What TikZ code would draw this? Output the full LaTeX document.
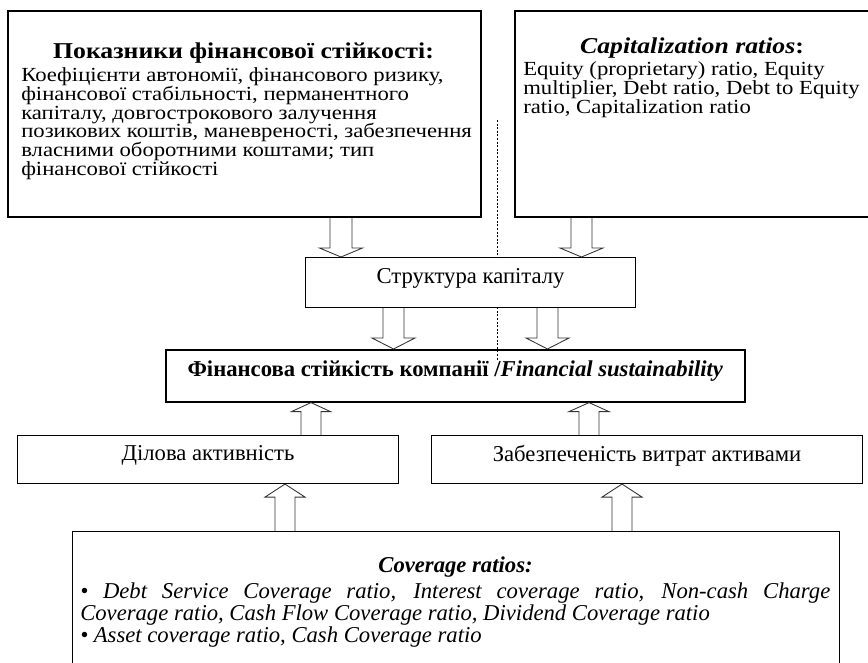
\documentclass[tikz,border=0pt]{standalone}
\usepackage{fontspec}
\setmainfont{Liberation Serif}
\newfontfamily\topfont{Liberation Serif}[FakeStretch=1.135]
\usetikzlibrary{calc}
\tikzset{
  box/.style={draw, line width=1.4pt, inner sep=0pt, anchor=north west},
  thinbox/.style={box, line width=0.8pt},
  blk/.style={draw=black!80, line width=0.65pt, line join=miter},
  txt/.style={inner sep=0pt},
}
% #1 centre x (px), #2 start anchor, #3 tip anchor, #4 signed head length,
% #5 shaft half width (px), #6 head half width (px)
\newcommand\blkarrow[6]{%
 \draw[blk] let \p1=(#2), \p2=(#3) in
  ({(#1-#5)*0.75pt},\y1) -- ({(#1-#5)*0.75pt},{\y2+#4}) -- ({(#1-#6)*0.75pt},{\y2+#4})
  -- ({#1*0.75pt},\y2) -- ({(#1+#6)*0.75pt},{\y2+#4}) -- ({(#1+#5)*0.75pt},{\y2+#4})
  -- ({(#1+#5)*0.75pt},\y1);}
% #1 style, #2 x1, #3 y1, #4 x2, #5 y2, #6 name
\newcommand\pbox[6]{\node[#1, minimum width={(#4-#2)*0.75pt}, minimum height={(#5-#3)*0.75pt}] (#6) at (#2,#3) {};}
\begin{document}
\begin{tikzpicture}[x=0.75pt,y=-0.75pt]
\useasboundingbox (0,0) rectangle (868,662);
\clip (0,0) rectangle (868,662);
\fill[white] (0,0) rectangle (868,662);
% dotted divider
\coordinate (d1) at (497,120);
\coordinate (d2) at (497,360);
\draw[line width=0.6pt, dash pattern=on 1.5pt off 1.2pt] (d1) -- (d2);
% boxes
\pbox{box}{7}{10}{480}{216}{tl}
\pbox{box}{514}{10}{873}{216}{tr}
\pbox{thinbox, fill=white}{305}{257}{635}{307}{str}
\pbox{box, line width=1.2pt}{165}{349}{744}{401}{fin}
\pbox{thinbox}{17}{435}{398}{483}{dil}
\pbox{thinbox}{431}{435}{862}{483}{zab}
\pbox{box, line width=1pt}{72}{531}{839}{680}{cov}
% texts
\node[txt, font=\topfont\fontsize{17}{19}\selectfont\bfseries] (tlt) at (243.5,53) {Показники фінансової стійкості:};
\node[txt, anchor=north west, align=left, font=\topfont\fontsize{15}{14.2}\selectfont] (tlb) at (21,67)
 {Коефіцієнти автономії, фінансового ризику,\\
  фінансової стабільності, перманентного\\
  капіталу, довгострокового залучення\\
  позикових коштів, маневреності, забезпечення\\
  власними оборотними коштами; тип\\
  фінансової стійкості};
\node[txt, font=\topfont\fontsize{17}{19}\selectfont\bfseries] (trt) at (692,48) {\textit{Capitalization ratios}:};
\node[txt, anchor=north west, align=left, font=\topfont\fontsize{15}{14.2}\selectfont] (trb) at (523,61)
 {Equity (proprietary) ratio, Equity\\
  multiplier, Debt ratio, Debt to Equity\\
  ratio, Capitalization ratio};
\node[txt, font=\fontsize{17}{19}\selectfont] (strt) at ($(str.center)+(0,-4)$) {Структура капіталу};
\node[txt, font=\fontsize{17}{19}\selectfont\bfseries] (fint) at ($(fin.center)+(0,-5)$) {Фінансова стійкість компанії /\textit{Financial sustainability}};
\node[txt, font=\fontsize{17}{19}\selectfont] (dilt) at ($(dil.center)+(0,-4)$) {Ділова активність};
\node[txt, font=\fontsize{17}{19}\selectfont] (zabt) at ($(zab.center)+(0,-4)$) {Забезпеченість витрат активами};
\node[txt, font=\fontsize{17}{19}\selectfont\bfseries\itshape] (covt) at (455.5,567) {Coverage ratios:};
\node[txt, anchor=north west, text width=562.5pt, align=justify, font=\fontsize{17}{16.5}\selectfont\itshape] (covb) at (80,582)
 {• Debt Service Coverage ratio, Interest coverage ratio, Non-cash Charge\linebreak
  Coverage ratio, Cash Flow Coverage ratio, Dividend Coverage ratio\newline
  • Asset coverage ratio, Cash Coverage ratio};
% block arrows
\blkarrow{341}{tl.south}{str.north}{6.75pt}{11}{21.5}
\blkarrow{581.5}{tr.south}{str.north}{6.75pt}{10.5}{21.5}
\blkarrow{393.5}{str.south}{fin.north}{8.25pt}{10.5}{21.5}
\blkarrow{547.5}{str.south}{fin.north}{8.25pt}{10.5}{21.5}
\blkarrow{311}{dil.north}{fin.south}{-6.75pt}{10}{19.5}
\blkarrow{589}{zab.north}{fin.south}{-6.75pt}{10}{20}
\blkarrow{285}{cov.north}{dil.south}{-9.75pt}{10}{20}
\blkarrow{622}{cov.north}{zab.south}{-9.75pt}{10}{20}
\end{tikzpicture}
\end{document}
